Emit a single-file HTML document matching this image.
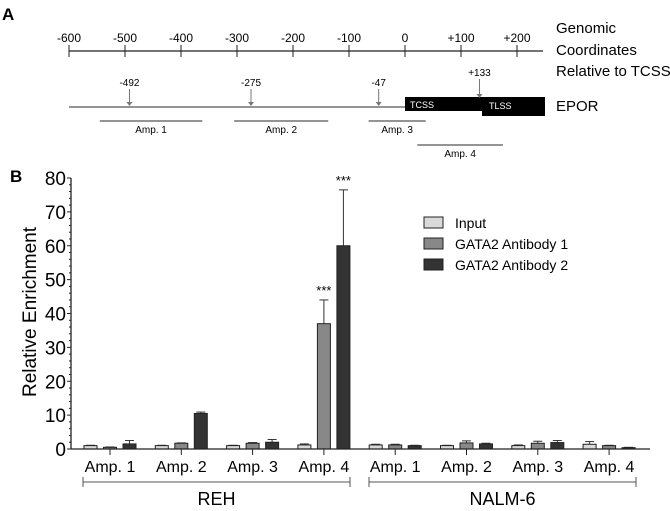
<!DOCTYPE html>
<html><head><meta charset="utf-8"><style>
body{margin:0;background:#fff;}
svg{display:block;font-family:"Liberation Sans",Arial,sans-serif;}
</style></head><body>
<svg id="fig" width="670" height="511" viewBox="0 0 670 511">
<g>
<text x="2" y="20" font-size="17" font-weight="bold">A</text>
<g id="gaxis"></g>
<text x="556" y="33" font-size="15">Genomic</text>
<text x="556" y="55" font-size="15">Coordinates</text>
<text x="556" y="76" font-size="15">Relative to TCSS</text>
<line x1="69" y1="107" x2="405" y2="107" stroke="#555" stroke-width="1.2"/>
<rect x="405" y="97" width="78" height="14" fill="#000"/>
<rect x="482" y="97" width="63" height="19" fill="#000"/>
<text x="410" y="108" font-size="9" fill="#fff">TCSS</text>
<text x="489" y="109" font-size="9" fill="#fff">TLSS</text>
<text x="556" y="111" font-size="15">EPOR</text>
<g id="arrows"></g>
<g id="amps"></g>
</g>
<g>
<text x="10" y="182" font-size="17" font-weight="bold">B</text>
<g id="chart"></g>
</g>
</svg>
<script>
const NS="http://www.w3.org/2000/svg";
function mk(p,t,a){const e=document.createElementNS(NS,t);for(const k in a)e.setAttribute(k,a[k]);p.appendChild(e);return e;}
// Panel A data
const genomicTicks=[-600,-500,-400,-300,-200,-100,0,100,200];
const siteLabels=["-492","-275","-47","+133"];
const siteValues=[-492,-275,-47,133];
const ampNames=["Amp. 1","Amp. 2","Amp. 3","Amp. 4"];
const ampStarts=[-545,-305,-65,22];
const ampEnds=[-362,-137,37,175];
const gx=v=>405+v*0.56;
const ga=document.getElementById('gaxis');
let l=mk(ga,'line',{x1:69,y1:51,x2:543,y2:51,stroke:'#222','stroke-width':1.2});


genomicTicks.forEach(v=>{
 let t=mk(ga,'line',{x1:gx(v),y1:45,x2:gx(v),y2:57,stroke:'#222','stroke-width':1});
 
 
 let s=mk(ga,'text',{x:gx(v),y:42,'font-size':12,'text-anchor':'middle'});
 s.textContent=v>0?'+'+v:String(v);
 
 
});
const ar=document.getElementById('arrows');
siteValues.forEach((v,i)=>{
 const x=gx(v), top=i==3?79:89, bot=i==3?98:106;
 let a=mk(ar,'line',{x1:x,y1:top,x2:x,y2:bot-3,stroke:'#777','stroke-width':1});
 
 
 let h=mk(ar,'path',{d:`M${x-3},${bot-4}L${x+3},${bot-4}L${x},${bot}Z`,fill:'#777'});
 
 
 let s=mk(ar,'text',{x:x,y:top-3,'font-size':10,'text-anchor':'middle'});
 s.textContent=siteLabels[i];
 
 
});
const am=document.getElementById('amps');
ampNames.forEach((n,i)=>{
 const y=i==3?145:121;
 let a=mk(am,'line',{x1:gx(ampStarts[i]),y1:y,x2:gx(ampEnds[i]),y2:y,stroke:'#555','stroke-width':1.2});
 
 
 let s=mk(am,'text',{x:(gx(ampStarts[i])+gx(ampEnds[i]))/2,y:y+12,'font-size':10,'text-anchor':'middle'});
 s.textContent=n;
 
 
});
// Panel B data
const categories=["Amp. 1","Amp. 2","Amp. 3","Amp. 4","Amp. 1","Amp. 2","Amp. 3","Amp. 4"];
const seriesNames=["Input","GATA2 Antibody 1","GATA2 Antibody 2"];
const inputVals=[1.0,1.0,1.0,1.2,1.2,1.0,1.0,1.4];
const inputErr=[0.1,0.1,0.1,0.3,0.2,0.1,0.2,0.8];
const ab1Vals=[0.5,1.7,1.7,37,1.2,1.8,1.7,1.0];
const ab1Err=[0.1,0.1,0.2,7,0.2,0.6,0.6,0.1];
const ab2Vals=[1.5,10.5,2.0,60,1.0,1.5,1.9,0.4];
const ab2Err=[1.0,0.4,0.8,16.5,0.1,0.2,0.6,0.1];
const yTicks=[0,10,20,30,40,50,60,70,80];
const cellLines=["REH","NALM-6"];
const colors=["#d9d9d9","#888","#333"];
const y=v=>449-v*(271/80);
const cx=i=>110+i*71.3;
const ch=document.getElementById('chart');
const vals=[inputVals,ab1Vals,ab2Vals], errs=[inputErr,ab1Err,ab2Err];
categories.forEach((c,i)=>{
 vals.forEach((s,k)=>{
  const x=cx(i)+(k-1)*19.5-6.5;
  const e=errs[k][i], top=y(s[i]+e);
  let el=mk(ch,'line',{x1:x+6.5,y1:y(s[i]),x2:x+6.5,y2:top,stroke:'#333','stroke-width':1});
  
  
  let cap=mk(ch,'line',{x1:x+2,y1:top,x2:x+11,y2:top,stroke:'#333','stroke-width':1});
  
  
  let r=mk(ch,'rect',{x:x,y:y(s[i]),width:13,height:449-y(s[i]),fill:colors[k],stroke:'#222','stroke-width':1});
  
  
 });
});
[[1,3],[2,3]].forEach(([k,i])=>{
 const x=cx(i)+(k-1)*19.5;
 let s=mk(ch,'text',{x:x,y:y(vals[k][i]+errs[k][i])-5,'font-size':13,'text-anchor':'middle'});
 s.textContent='***';
 
 
});
let ya=mk(ch,'line',{x1:71,y1:178,x2:71,y2:449,stroke:'#222','stroke-width':1.3});


let xa=mk(ch,'line',{x1:71,y1:449,x2:650,y2:449,stroke:'#222','stroke-width':1.3});


for(let v=0;v<=80;v+=2){
 const major=v%10==0;
 let t=mk(ch,'line',{x1:major?67:69,y1:y(v),x2:71,y2:y(v),stroke:'#222','stroke-width':1});
 
 
}
yTicks.forEach(v=>{
 let s=mk(ch,'text',{x:66,y:y(v)+7,'font-size':19,'text-anchor':'end'});
 s.textContent=v;
 
 
});
let yt=mk(ch,'text',{x:0,y:0,'font-size':19,'text-anchor':'middle',transform:'translate(36,312) rotate(-90)'});
yt.textContent='Relative Enrichment';


categories.forEach((c,i)=>{
 let t=mk(ch,'line',{x1:cx(i),y1:449,x2:cx(i),y2:455,stroke:'#222','stroke-width':1});
 
 
 let s=mk(ch,'text',{x:cx(i),y:472,'font-size':16,'text-anchor':'middle'});
 s.textContent=c;
 
 
});
cellLines.forEach((n,g)=>{
 const x1=g==0?83:369, x2=g==0?350:636;
 let b=mk(ch,'path',{d:`M${x1},477V487M${x1},482H${x2}M${x2},477V487`,stroke:'#555',fill:'none','stroke-width':1});
 
 
 let s=mk(ch,'text',{x:(x1+x2)/2,y:505,'font-size':18,'text-anchor':'middle'});
 s.textContent=n;
 
 
});
seriesNames.forEach((n,k)=>{
 const ly=217+k*21;
 let r=mk(ch,'rect',{x:424,y:ly,width:19,height:11,fill:colors[k],stroke:'#222','stroke-width':1});
 
 
 let s=mk(ch,'text',{x:455,y:ly+11,'font-size':14});
 s.textContent=n;
 
 
});
</script>
</body></html>
